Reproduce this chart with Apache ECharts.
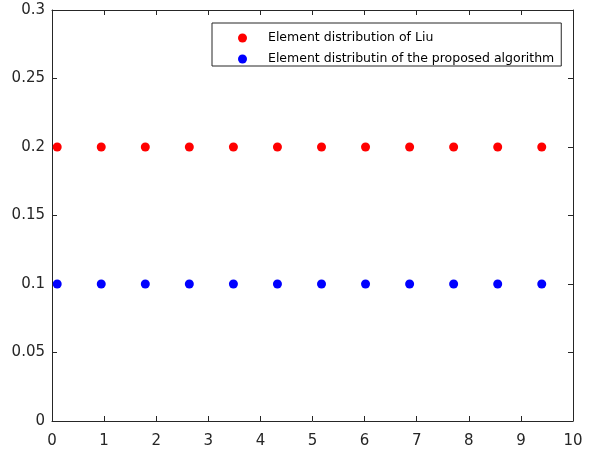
<!DOCTYPE html>
<html>
<head>
<meta charset="utf-8">
<script src="https://cdn.jsdelivr.net/npm/echarts@6/dist/echarts.min.js"></script>
<style>html,body{margin:0;padding:0;background:#fff}#c{width:594px;height:450px}</style>
</head>
<body>
<div id="c"></div>
<script>
var xValues = [0.1, 0.945, 1.791, 2.636, 3.482, 4.327, 5.173, 6.018, 6.864, 7.709, 8.555, 9.4];
var liuValues = [0.2, 0.2, 0.2, 0.2, 0.2, 0.2, 0.2, 0.2, 0.2, 0.2, 0.2, 0.2];
var proposedValues = [0.1, 0.1, 0.1, 0.1, 0.1, 0.1, 0.1, 0.1, 0.1, 0.1, 0.1, 0.1];
var seriesNames = ['Element distribution of Liu', 'Element distributin of the proposed algorithm'];
var xTicks = [0, 1, 2, 3, 4, 5, 6, 7, 8, 9, 10];
var yTicks = ['0', '0.05', '0.1', '0.15', '0.2', '0.25', '0.3'];

function pairs(xs, ys) { return xs.map(function (x, i) { return [x, ys[i]]; }); }

var axisColor = '#262626';
var font = 'DejaVu Sans, Arial, Helvetica, sans-serif';
function xAx(pos, showLabel) {
  return {
    type: 'value', position: pos, min: 0, max: 10, interval: 1,
    axisLine: { show: true, onZero: false, lineStyle: { color: axisColor, width: 1 } },
    axisTick: { show: true, inside: true, length: 5, lineStyle: { color: axisColor } },
    axisLabel: { show: showLabel, color: axisColor, fontSize: 15, fontFamily: font, margin: 13,
      formatter: function (v) { return String(xTicks[Math.round(v)]); } },
    splitLine: { show: false }
  };
}
function yAx(pos, showLabel) {
  return {
    type: 'value', position: pos, min: 0, max: 0.3, interval: 0.05,
    axisLine: { show: true, onZero: false, lineStyle: { color: axisColor, width: 1 } },
    axisTick: { show: true, inside: true, length: 5, lineStyle: { color: axisColor } },
    axisLabel: { show: showLabel, color: axisColor, fontSize: 15, fontFamily: font, margin: 7,
      formatter: function (v) { var i = Math.round(v / 0.05); return yTicks[i]; } },
    splitLine: { show: false }
  };
}

var chart = echarts.init(document.getElementById('c'), null, { renderer: 'canvas' });
chart.setOption({
  animation: false,
  backgroundColor: '#fff',
  grid: { left: 52, right: 21, top: 10, bottom: 29, containLabel: false },
  xAxis: [xAx('bottom', true), xAx('top', false)],
  yAxis: [yAx('left', true), yAx('right', false)],
  legend: {
    orient: 'vertical', left: 212, top: 23,
    padding: [8, 7, 0, 26],
    itemWidth: 41, itemHeight: 9, itemGap: 7,
    icon: 'circle',
    backgroundColor: '#fff',
    borderColor: axisColor, borderWidth: 1,
    textStyle: { color: '#000', fontSize: 12.5, lineHeight: 14, fontFamily: font },
    data: seriesNames
  },
  series: [
    { name: seriesNames[0], type: 'scatter', xAxisIndex: 0, yAxisIndex: 0, symbol: 'circle', symbolSize: 9,
      itemStyle: { color: '#ff0000', opacity: 1 }, data: pairs(xValues, liuValues) },
    { name: seriesNames[1], type: 'scatter', xAxisIndex: 0, yAxisIndex: 0, symbol: 'circle', symbolSize: 9,
      itemStyle: { color: '#0000ff', opacity: 1 }, data: pairs(xValues, proposedValues) }
  ]
});
</script>
</body>
</html>
